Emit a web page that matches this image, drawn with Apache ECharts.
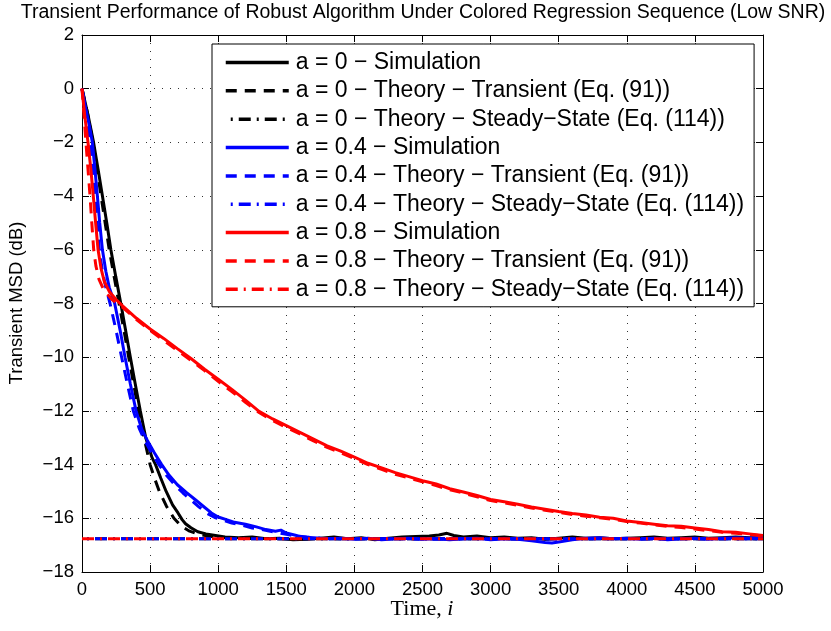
<!DOCTYPE html>
<html>
<head>
<meta charset="utf-8">
<script src="https://cdn.jsdelivr.net/npm/echarts@6/dist/echarts.min.js"></script>
<style>html,body{margin:0;padding:0;background:#fff;}#c{width:831px;height:631px;}</style>
</head>
<body>
<div id="c"></div>
<script>
// ---- data (time index i, MSD in dB) ----
var titleText = 'Transient Performance of Robust Algorithm Under Colored Regression Sequence (Low SNR)';
var yName = 'Transient MSD (dB)';
var xTicks = [0, 500, 1000, 1500, 2000, 2500, 3000, 3500, 4000, 4500, 5000];
var yTicks = [-18, -16, -14, -12, -10, -8, -6, -4, -2, 0, 2];

var seriesNames = [
  'a = 0 \u2212 Simulation',
  'a = 0 \u2212 Theory \u2212 Transient (Eq. (91))',
  'a = 0 \u2212 Theory \u2212 Steady\u2212State (Eq. (114))',
  'a = 0.4 \u2212 Simulation',
  'a = 0.4 \u2212 Theory \u2212 Transient (Eq. (91))',
  'a = 0.4 \u2212 Theory \u2212 Steady\u2212State (Eq. (114))',
  'a = 0.8 \u2212 Simulation',
  'a = 0.8 \u2212 Theory \u2212 Transient (Eq. (91))',
  'a = 0.8 \u2212 Theory \u2212 Steady\u2212State (Eq. (114))'
];

var simA0 = [[0,0],[45,-1.0],[85,-2.0],[118,-3.0],[150,-4.0],[182,-5.0],[212,-6.0],[248,-7.0],[285,-8.0],[320,-9.0],[355,-10.0],[391,-11.0],[428,-12.0],[468,-13.0],[515,-13.75],[540,-14.0],[578,-14.5],[618,-15.0],[665,-15.5],[705,-15.8],[735,-16.05],[760,-16.2],[800,-16.35],[850,-16.5],[910,-16.58],[980,-16.64],[1050,-16.7],[1150,-16.72],[1250,-16.7],[1350,-16.76],[1450,-16.74],[1550,-16.8],[1650,-16.78],[1750,-16.74],[1850,-16.7],[1950,-16.76],[2050,-16.72],[2150,-16.8],[2250,-16.74],[2350,-16.7],[2450,-16.68],[2550,-16.66],[2620,-16.62],[2680,-16.56],[2730,-16.64],[2800,-16.7],[2900,-16.66],[3000,-16.72],[3100,-16.7],[3200,-16.74],[3300,-16.72],[3400,-16.78],[3500,-16.74],[3600,-16.7],[3700,-16.74],[3800,-16.72],[3900,-16.76],[4000,-16.74],[4100,-16.72],[4200,-16.7],[4300,-16.74],[4400,-16.72],[4500,-16.7],[4600,-16.74],[4700,-16.72],[4800,-16.7],[4900,-16.72],[5000,-16.72]];
var thA0 = [[0,0],[40,-0.9],[80,-2.0],[110,-3.0],[140,-4.0],[170,-5.0],[200,-6.0],[236,-7.0],[272,-8.0],[308,-9.0],[343,-10.0],[379,-11.0],[415,-12.0],[455,-13.0],[500,-14.0],[532,-14.5],[568,-15.0],[620,-15.55],[675,-16.0],[730,-16.3],[790,-16.48],[860,-16.6],[950,-16.68],[1050,-16.72],[1200,-16.75],[1500,-16.76],[2000,-16.76],[3000,-16.76],[4000,-16.76],[5000,-16.76]];
var ssA0 = [[0,-16.76],[5000,-16.76]];

var simA04 = [[0,0],[30,-0.8],[55,-1.4],[76,-2.0],[95,-3.0],[113,-4.0],[130,-5.0],[150,-6.0],[175,-6.8],[200,-7.4],[240,-8.0],[280,-9.0],[316,-10.0],[355,-11.0],[397,-12.0],[440,-12.7],[480,-13.1],[530,-13.55],[585,-14.0],[640,-14.4],[700,-14.75],[770,-15.05],[830,-15.3],[890,-15.55],[950,-15.8],[1000,-15.95],[1060,-16.05],[1120,-16.15],[1200,-16.22],[1280,-16.32],[1350,-16.42],[1420,-16.48],[1460,-16.44],[1500,-16.55],[1560,-16.62],[1620,-16.7],[1700,-16.72],[1800,-16.76],[1900,-16.74],[2000,-16.78],[2100,-16.74],[2200,-16.8],[2300,-16.76],[2400,-16.74],[2500,-16.78],[2600,-16.76],[2700,-16.8],[2800,-16.76],[2900,-16.74],[3000,-16.8],[3100,-16.76],[3200,-16.78],[3300,-16.84],[3400,-16.9],[3450,-16.92],[3500,-16.88],[3600,-16.8],[3700,-16.74],[3800,-16.72],[3900,-16.76],[4000,-16.74],[4100,-16.78],[4200,-16.74],[4300,-16.8],[4400,-16.76],[4500,-16.74],[4600,-16.78],[4700,-16.74],[4800,-16.72],[4900,-16.74],[5000,-16.7]];
var thA04 = [[0,0],[25,-0.8],[45,-1.4],[62,-2.0],[80,-3.0],[96,-4.0],[112,-5.0],[127,-6.0],[150,-6.8],[175,-7.4],[206,-8.0],[250,-9.0],[291,-10.0],[333,-11.0],[377,-12.0],[420,-12.65],[460,-13.1],[510,-13.55],[565,-14.0],[620,-14.4],[680,-14.75],[740,-15.05],[800,-15.32],[860,-15.58],[920,-15.82],[975,-15.97],[1040,-16.08],[1100,-16.18],[1180,-16.26],[1250,-16.36],[1320,-16.42],[1400,-16.5],[1480,-16.58],[1560,-16.65],[1650,-16.7],[1750,-16.74],[1900,-16.76],[2100,-16.76],[2500,-16.77],[3000,-16.76],[3500,-16.77],[4000,-16.76],[4500,-16.76],[5000,-16.76]];
var ssA04 = [[0,-16.76],[5000,-16.76]];

var simA08 = [[0,0],[20,-1.0],[44,-2.0],[65,-3.0],[83,-4.0],[100,-5.0],[118,-6.0],[140,-6.7],[165,-7.2],[200,-7.55],[250,-7.85],[300,-8.1],[400,-8.55],[500,-8.95],[600,-9.3],[700,-9.68],[800,-10.05],[900,-10.45],[1000,-10.82],[1100,-11.2],[1200,-11.6],[1300,-12.02],[1400,-12.3],[1500,-12.55],[1600,-12.8],[1700,-13.05],[1800,-13.3],[1900,-13.5],[2000,-13.72],[2100,-13.95],[2200,-14.12],[2300,-14.3],[2400,-14.45],[2500,-14.6],[2600,-14.72],[2700,-14.9],[2800,-15.02],[2900,-15.15],[3000,-15.3],[3100,-15.38],[3200,-15.48],[3300,-15.58],[3400,-15.66],[3500,-15.75],[3600,-15.82],[3700,-15.88],[3800,-15.96],[3900,-16.0],[4000,-16.1],[4100,-16.16],[4200,-16.22],[4300,-16.28],[4400,-16.3],[4500,-16.36],[4600,-16.42],[4700,-16.5],[4800,-16.52],[4900,-16.58],[5000,-16.64]];
var thA08 = [[0,0],[15,-1.0],[29,-2.0],[44,-3.0],[59,-4.0],[72,-5.0],[86,-6.0],[102,-6.6],[125,-7.1],[160,-7.5],[220,-7.85],[300,-8.15],[400,-8.6],[500,-9.0],[600,-9.38],[700,-9.75],[800,-10.12],[900,-10.5],[1000,-10.9],[1100,-11.28],[1200,-11.68],[1300,-12.06],[1400,-12.36],[1500,-12.62],[1600,-12.86],[1700,-13.12],[1800,-13.36],[1900,-13.56],[2000,-13.78],[2100,-14.0],[2200,-14.18],[2300,-14.36],[2400,-14.5],[2500,-14.64],[2600,-14.78],[2700,-14.94],[2800,-15.06],[2900,-15.2],[3000,-15.34],[3100,-15.42],[3200,-15.52],[3300,-15.62],[3400,-15.7],[3500,-15.78],[3600,-15.86],[3700,-15.92],[3800,-15.98],[3900,-16.04],[4000,-16.12],[4100,-16.18],[4200,-16.24],[4300,-16.3],[4400,-16.34],[4500,-16.4],[4600,-16.46],[4700,-16.52],[4800,-16.56],[4900,-16.6],[5000,-16.66]];
var ssA08 = [[0,-16.76],[5000,-16.76]];

var seriesData = [simA0, thA0, ssA0, simA04, thA04, ssA04, simA08, thA08, ssA08];
var seriesColors = ['#000000','#000000','#000000','#0000ff','#0000ff','#0000ff','#ff0000','#ff0000','#ff0000'];
var seriesKinds = ['solid','dash','dashdot','solid','dash','dashdot','solid','dash','dashdot'];

// ---- chart ----
var FONT = '"Liberation Sans", Arial, Helvetica, sans-serif';
var SERIF = '"Liberation Serif", "Times New Roman", serif';
var dashTypes = { solid: 'solid', dash: [11, 8], dashdot: [12, 6, 2, 6] };

var series = seriesData.map(function (d, k) {
  return {
    name: seriesNames[k],
    type: 'line',
    data: d,
    symbol: 'none',
    showSymbol: false,
    smooth: false,
    silent: true,
    clip: true,
    lineStyle: {
      color: seriesColors[k],
      width: 3,
      type: dashTypes[seriesKinds[k]],
      dashOffset: (seriesKinds[k] === 'dashdot') ? (k === 8 ? 0 : 13) : 0,
      cap: 'butt'
    },
    itemStyle: { color: seriesColors[k] }
  };
});

var gridLine = { show: true, lineStyle: { color: '#333', width: 1, type: [1, 7] } };
var minus = function (v) { return String(v).replace('-', '\u2212'); };
var plain = function (v) { return String(v); };

var chart = echarts.init(document.getElementById('c'), null, { renderer: 'canvas' });
chart.setOption({
  animation: false,
  backgroundColor: '#ffffff',
  grid: { left: 82, right: 68, top: 35, bottom: 59, containLabel: false },
  xAxis: [{
    type: 'value', min: xTicks[0], max: xTicks[xTicks.length - 1], interval: 500,
    axisLine: { show: true, onZero: false, lineStyle: { color: '#000', width: 1 } },
    axisTick: { show: true, inside: true, length: 7, lineStyle: { color: '#000' } },
    axisLabel: { show: true, margin: 8, color: '#000', fontSize: 18.5, fontFamily: FONT, formatter: plain, showMinLabel: true, showMaxLabel: true },
    splitLine: gridLine
  }, {
    type: 'value', position: 'top', min: xTicks[0], max: xTicks[xTicks.length - 1], interval: 500,
    axisLine: { show: true, onZero: false, lineStyle: { color: '#000', width: 1 } },
    axisTick: { show: true, inside: true, length: 7, lineStyle: { color: '#000' } },
    axisLabel: { show: false }, splitLine: { show: false }
  }],
  yAxis: [{
    type: 'value', min: yTicks[0], max: yTicks[yTicks.length - 1], interval: 2,
    axisLine: { show: true, onZero: false, lineStyle: { color: '#000', width: 1 } },
    axisTick: { show: true, inside: true, length: 7, lineStyle: { color: '#000' } },
    axisLabel: { show: true, margin: 8, color: '#000', fontSize: 18.5, fontFamily: FONT, formatter: minus, showMinLabel: true, showMaxLabel: true },
    splitLine: gridLine
  }, {
    type: 'value', position: 'right', min: yTicks[0], max: yTicks[yTicks.length - 1], interval: 2,
    axisLine: { show: true, onZero: false, lineStyle: { color: '#000', width: 1 } },
    axisTick: { show: true, inside: true, length: 7, lineStyle: { color: '#000' } },
    axisLabel: { show: false }, splitLine: { show: false }
  }],
  legend: {
    show: true,
    orient: 'vertical',
    left: 212, top: 44,
    data: seriesNames,
    selectedMode: false,
    backgroundColor: '#ffffff',
    borderColor: '#000000',
    borderWidth: 1,
    borderRadius: 0,
    padding: [7, 10, 6, 12],
    itemWidth: 63,
    itemHeight: 14,
    itemGap: 5.35,
    itemStyle: { color: 'rgba(0,0,0,0)', borderColor: 'rgba(0,0,0,0)', borderWidth: 0, opacity: 0 },
    lineStyle: { width: 3.5 },
    textStyle: { color: '#000', fontSize: 23, fontFamily: FONT, lineHeight: 23, padding: [0, 0, 0, 2] }
  },
  graphic: [
    { type: 'text', x: 423, y: 3, style: { text: titleText, fill: '#000', font: '19.5px ' + FONT, textAlign: 'center', textVerticalAlign: 'top' } },
    { type: 'text', x: 17, y: 303, rotation: Math.PI / 2, style: { text: yName, fill: '#000', font: '18.5px ' + FONT, textAlign: 'center', textVerticalAlign: 'middle' } },
    { type: 'text', x: 422, y: 609, style: {
        text: '{a|Time, }{b|i}', textAlign: 'center', textVerticalAlign: 'middle',
        rich: { a: { fontFamily: SERIF, fontSize: 22, fill: '#000' },
                b: { fontFamily: SERIF, fontSize: 22, fontStyle: 'italic', fill: '#000' } } } }
  ],
  series: series
});
</script>
</body>
</html>
